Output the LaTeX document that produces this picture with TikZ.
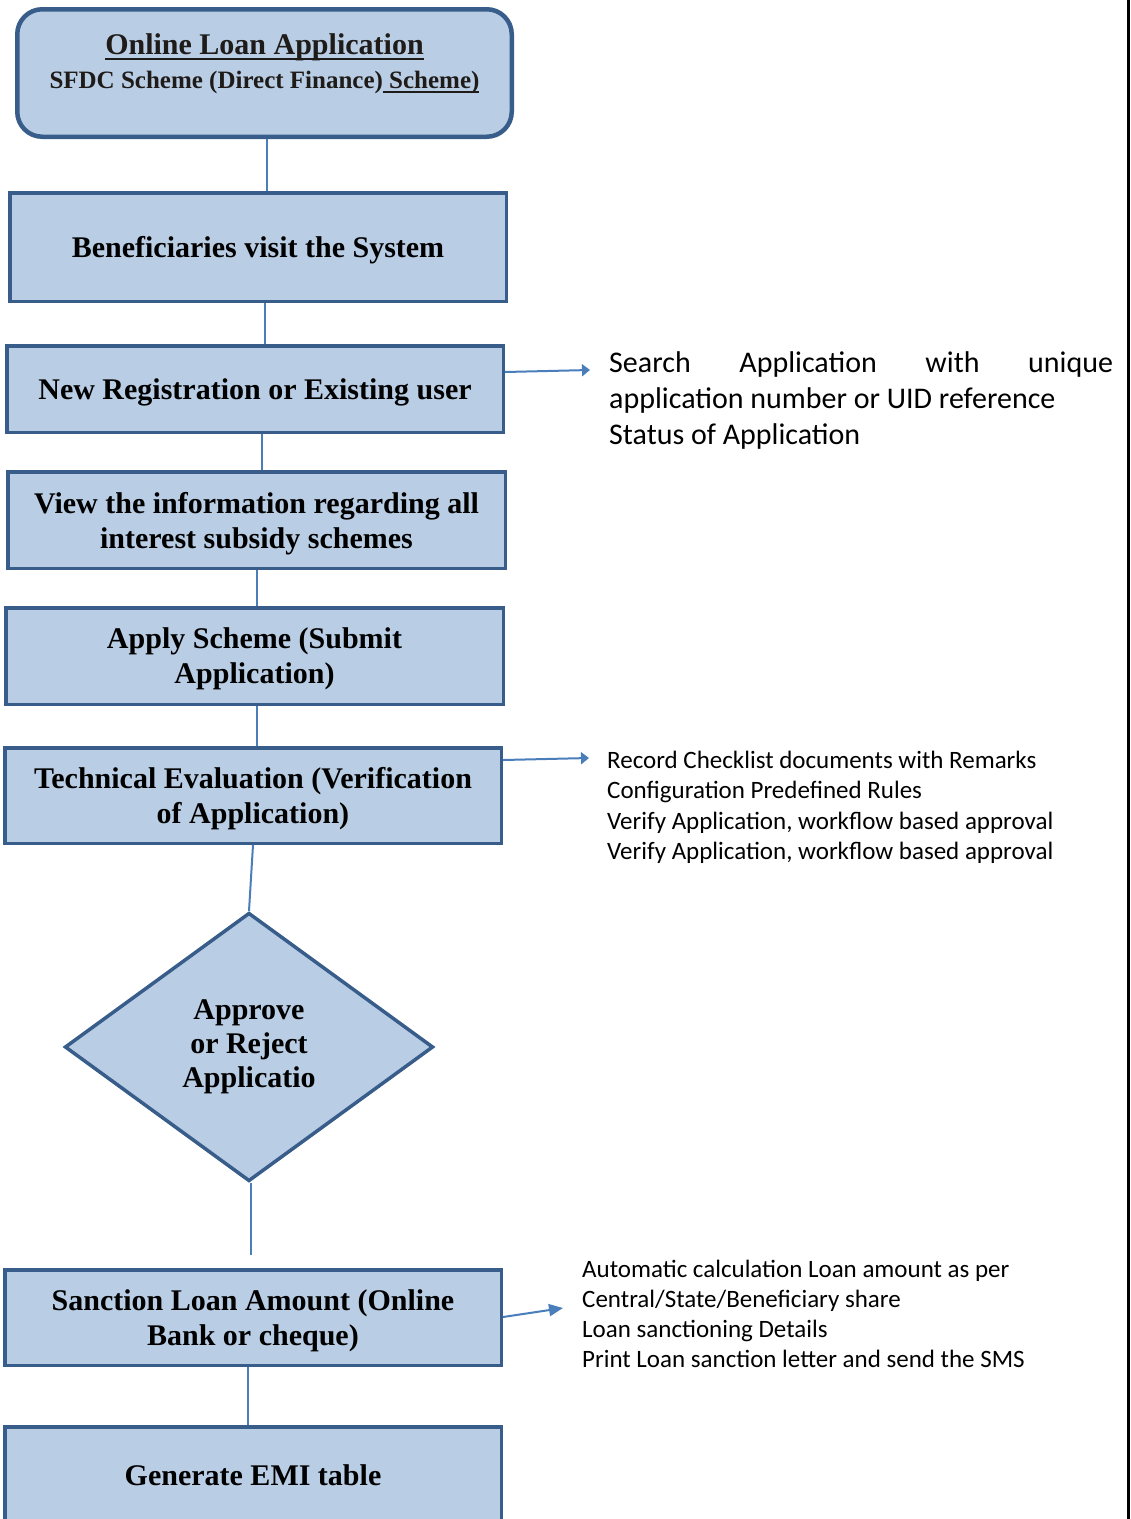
\documentclass[tikz,border=0pt]{standalone}
\usepackage{fontspec}
\setmainfont{Liberation Serif}
\newfontfamily\calib{Carlito}
\usetikzlibrary{shapes.geometric,arrows.meta,calc}
\definecolor{boxfill}{HTML}{B9CDE5}
\definecolor{boxline}{HTML}{385D8A}
\definecolor{connblue}{HTML}{4A7EBB}
\definecolor{textdark}{HTML}{1E1B18}
\newcommand\myul[2][-5pt]{\leavevmode\setbox0=\hbox{#2}\rlap{\rule[#1]{\wd0}{2pt}}\box0}
\begin{document}
\begin{tikzpicture}[x=1pt,y=-1pt,
  stepbox/.style={draw=boxline, fill=boxfill, line width=3.5pt, inner sep=0pt, align=center,
    text=black, text depth=0pt, font={\bfseries\fontsize{30}{35}\selectfont}},
  topbox/.style={draw=boxline, fill=boxfill, line width=4.5pt, rounded corners=25pt, inner sep=0pt},
  decision/.style={diamond, draw=boxline, fill=boxfill, line width=3.5pt, inner sep=0pt, align=center,
    text=black, font={\bfseries\fontsize{30}{34}\selectfont}},
  connline/.style={draw=connblue, line width=2pt},
  connarrow/.style={draw=connblue, line width=2pt, -{Triangle[length=8pt,width=12pt]}},
  sidetext/.style={anchor=base west, inner sep=0pt, text=black}]
\useasboundingbox (0,0) rectangle (1131,1519);

% page border line at right
\draw[line width=2.5pt] (1128.5,0) -- (1128.5,1519);

% top rounded box
\node[topbox, minimum width=494.5pt, minimum height=127.5pt] (top) at (264.5,73) {};
\node[anchor=base, inner sep=0pt, text=textdark] (toptext) at (264.5,54)
  {\parbox[t]{490pt}{\centering\bfseries\fontsize{30}{34.5}\selectfont
   \myul[-6pt]{Online Loan Application}\\
   \fontsize{25}{34.5}\selectfont SFDC Scheme (Direct Finance)\myul[-4.5pt]{ Scheme)}}};

% boxes
\node[stepbox, minimum width=496.5pt, minimum height=108.5pt] (b1) at (258,247) {Beneficiaries visit the System};
\node[stepbox, minimum width=496.5pt, minimum height=86.5pt] (b2) at (255,389) {New Registration or Existing user};
\node[stepbox, minimum width=497.5pt, minimum height=96.5pt] (b3) at (256.5,520) {View the information regarding all\\interest subsidy schemes};
\node[stepbox, minimum width=497.5pt, minimum height=96.5pt] (b4) at (254.5,656) {Apply Scheme (Submit\\Application)};
\node[stepbox, minimum width=496.5pt, minimum height=95.5pt] (b5) at (253,795.5) {Technical Evaluation (Verification\\of Application)};
\node[decision, minimum width=368.5pt, minimum height=268.5pt] (d) at (249,1047) {Approve\\or Reject\\Applicatio};
\node[stepbox, minimum width=496.5pt, minimum height=95.5pt] (b7) at (253,1317.5) {Sanction Loan Amount (Online\\Bank or cheque)};
\node[stepbox, minimum width=496.5pt, minimum height=96.5pt] (b8) at (253,1475) {Generate EMI table};

% vertical connectors
\draw[connline] (top.south -| 267,0) -- (b1.north -| 267,0);
\draw[connline] (b1.south -| 265,0) -- (b2.north -| 265,0);
\draw[connline] (b2.south -| 262,0) -- (b3.north -| 262,0);
\draw[connline] (b3.south -| 257,0) -- (b4.north -| 257,0);
\draw[connline] (b4.south -| 257,0) -- (b5.north -| 257,0);
\draw[connline] (b5.south -| 253,0) -- (d.north);
\coordinate (c7end) at (251,1255);
\draw[connline] (d.south -| 251,0) -- (c7end);
\draw[connline] (b7.south -| 248,0) -- (b8.north -| 248,0);

% side arrows
\coordinate (t1) at (590,370);
\draw[connarrow] (b2.east |- 0,372) -- (t1);
\coordinate (t2) at (589,758);
\draw[connarrow] (b5.east |- 0,760) -- (t2);
\coordinate (t3) at (563,1308);
\draw[connline, -{Triangle[length=14pt,width=12pt]}] (b7.east |- 0,1317) -- (t3);

% side texts
\node[sidetext] (n1) at (609,372) {\parbox[t]{520pt}{\calib\fontsize{30}{36}\selectfont
  \makebox[504pt][s]{Search Application with unique}\\
  application number or UID reference\\
  Status of Application}};
\node[sidetext] (n2) at (607,768) {\parbox[t]{520pt}{\calib\fontsize{25}{30.5}\selectfont
  Record Checklist documents with Remarks\\
  Configuration Predefined Rules\\
  Verify Application, workflow based approval\\
  Verify Application, workflow based approval}};
\node[sidetext] (n3) at (582,1277) {\parbox[t]{520pt}{\calib\fontsize{25}{30.2}\selectfont
  Automatic calculation Loan amount as per\\
  Central/State/Beneficiary share\\
  Loan sanctioning Details\\
  Print Loan sanction letter and send the SMS}};
\end{tikzpicture}
\end{document}
